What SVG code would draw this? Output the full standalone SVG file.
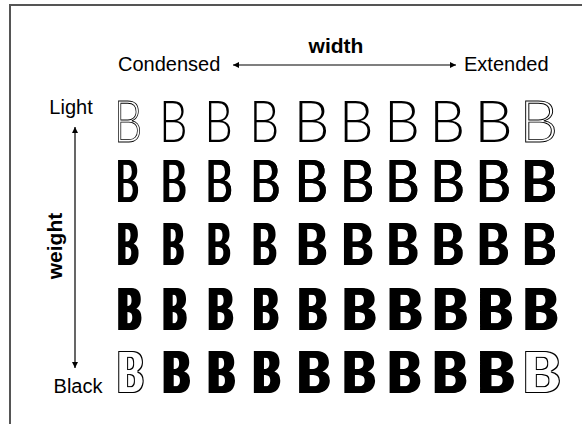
<svg xmlns="http://www.w3.org/2000/svg" width="582" height="424" viewBox="0 0 582 424">
<style>
.lbl{font-family:"Liberation Sans",Arial,sans-serif;font-size:20px;fill:#000}
.bold{font-weight:bold;font-size:21px}
.b{font-family:Lato,"Noto Sans",sans-serif;font-size:58px;fill:#000}
.r1{font-weight:300}
.r2{font-weight:400}
.r3{font-weight:700}
.r5{font-weight:900}
.ol{fill:#fff;stroke:#000;stroke-width:0.9}
.ax{stroke:#000;stroke-width:1.2;fill:none}
</style>
<defs>
<marker id="ah" viewBox="0 0 10 10" refX="10" refY="5" markerWidth="8" markerHeight="6" markerUnits="userSpaceOnUse" orient="auto-start-reverse">
<path d="M0,0 L10,5 L0,10 z" fill="#000"/>
</marker>
<filter id="s1" x="-0.5" y="-0.2" width="2.2" height="1.4"><feOffset in="SourceGraphic" dx="0.5" result="a"/><feOffset in="SourceGraphic" dx="1" result="b"/><feMerge><feMergeNode in="SourceGraphic"/><feMergeNode in="a"/><feMergeNode in="b"/></feMerge></filter>
<filter id="s1.5" x="-0.5" y="-0.2" width="2.2" height="1.4"><feOffset in="SourceGraphic" dx="0.75" result="a"/><feOffset in="SourceGraphic" dx="1.5" result="b"/><feMerge><feMergeNode in="SourceGraphic"/><feMergeNode in="a"/><feMergeNode in="b"/></feMerge></filter>
<filter id="s2" x="-0.5" y="-0.2" width="2.2" height="1.4"><feOffset in="SourceGraphic" dx="1" result="a"/><feOffset in="SourceGraphic" dx="2" result="b"/><feMerge><feMergeNode in="SourceGraphic"/><feMergeNode in="a"/><feMergeNode in="b"/></feMerge></filter>
<filter id="s2.5" x="-0.5" y="-0.2" width="2.2" height="1.4"><feOffset in="SourceGraphic" dx="1.25" result="a"/><feOffset in="SourceGraphic" dx="2.5" result="b"/><feMerge><feMergeNode in="SourceGraphic"/><feMergeNode in="a"/><feMergeNode in="b"/></feMerge></filter>
<filter id="s3" x="-0.5" y="-0.2" width="2.2" height="1.4"><feOffset in="SourceGraphic" dx="1.5" result="a"/><feOffset in="SourceGraphic" dx="3" result="b"/><feMerge><feMergeNode in="SourceGraphic"/><feMergeNode in="a"/><feMergeNode in="b"/></feMerge></filter>
<filter id="s3.5" x="-0.5" y="-0.2" width="2.2" height="1.4"><feOffset in="SourceGraphic" dx="1.75" result="a"/><feOffset in="SourceGraphic" dx="3.5" result="b"/><feMerge><feMergeNode in="SourceGraphic"/><feMergeNode in="a"/><feMergeNode in="b"/></feMerge></filter>
<filter id="s4" x="-0.5" y="-0.2" width="2.2" height="1.4"><feOffset in="SourceGraphic" dx="2" result="a"/><feOffset in="SourceGraphic" dx="4" result="b"/><feMerge><feMergeNode in="SourceGraphic"/><feMergeNode in="a"/><feMergeNode in="b"/></feMerge></filter>
<filter id="o4" x="-0.5" y="-0.2" width="2.2" height="1.4"><feOffset in="SourceAlpha" dx="2" result="a"/><feOffset in="SourceAlpha" dx="4" result="b"/><feMerge result="m"><feMergeNode in="SourceAlpha"/><feMergeNode in="a"/><feMergeNode in="b"/></feMerge><feMorphology in="m" operator="erode" radius="1" result="e"/><feComposite in="m" in2="e" operator="out"/></filter>
<filter id="o2.5" x="-0.5" y="-0.2" width="2.2" height="1.4"><feOffset in="SourceAlpha" dx="1.25" result="a"/><feOffset in="SourceAlpha" dx="2.5" result="b"/><feMerge result="m"><feMergeNode in="SourceAlpha"/><feMergeNode in="a"/><feMergeNode in="b"/></feMerge><feMorphology in="m" operator="erode" radius="1" result="e"/><feComposite in="m" in2="e" operator="out"/></filter>
</defs>
<rect x="10" y="5" width="620" height="460" fill="#fff" stroke="#555" stroke-width="2"/>
<g id="labels">
<text id="width" class="lbl bold" x="336" y="53" text-anchor="middle">width</text>
<text id="condensed" class="lbl" x="118" y="71">Condensed</text>
<text id="extended" class="lbl" x="464" y="71">Extended</text>
<text id="light" class="lbl" x="71" y="114" text-anchor="middle">Light</text>
<text id="black" class="lbl" x="78" y="393" text-anchor="middle">Black</text>
<text id="weight" class="lbl bold" transform="translate(62,246) rotate(-90)" text-anchor="middle">weight</text>
</g>
<g id="connectors">
<line class="ax" x1="233" y1="65" x2="456" y2="65" marker-start="url(#ah)" marker-end="url(#ah)"/>
<line class="ax" x1="75" y1="127" x2="75" y2="368" marker-start="url(#ah)" marker-end="url(#ah)"/>
</g>
<g id="row1" class="b r1">
<text class="ol" x="-5.3" transform="translate(118,141.5) scale(0.78,1)">B</text>
<text x="-5.3" transform="translate(163.2,141.5) scale(0.78,1)">B</text>
<text x="-5.3" transform="translate(208.4,141.5) scale(0.78,1)">B</text>
<text x="-5.3" transform="translate(253.6,141.5) scale(0.82,1)">B</text>
<text x="-5.3" transform="translate(298.8,141.5) scale(0.98,1)">B</text>
<text x="-5.3" transform="translate(344,141.5) scale(0.94,1)">B</text>
<text x="-5.3" transform="translate(389.2,141.5) scale(0.98,1)">B</text>
<text x="-5.3" transform="translate(434.4,141.5) scale(0.98,1)">B</text>
<text x="-5.3" transform="translate(479.6,141.5) scale(1.06,1)">B</text>
<text class="ol" x="-5.3" transform="translate(524.8,141.5) scale(1.06,1)">B</text>
</g>
<g id="row2" class="b r2">
<g transform="translate(118,202)" filter="url(#s1.5)"><text x="-5.2" transform="scale(0.618,1)">B</text></g>
<g transform="translate(163.2,202)" filter="url(#s1.5)"><text x="-5.2" transform="scale(0.689,1)">B</text></g>
<g transform="translate(208.4,202)" filter="url(#s1)"><text x="-5.2" transform="scale(0.742,1)">B</text></g>
<g transform="translate(253.6,202)" filter="url(#s1)"><text x="-5.2" transform="scale(0.813,1)">B</text></g>
<g transform="translate(298.8,202)" filter="url(#s1)"><text x="-5.2" transform="scale(0.883,1)">B</text></g>
<g transform="translate(344,202)" filter="url(#s1)"><text x="-5.2" transform="scale(0.919,1)">B</text></g>
<g transform="translate(389.2,202)" filter="url(#s1)"><text x="-5.2" transform="scale(0.919,1)">B</text></g>
<g transform="translate(434.4,202)" filter="url(#s1)"><text x="-5.2" transform="scale(0.919,1)">B</text></g>
<g transform="translate(479.6,202)" filter="url(#s1)"><text x="-5.2" transform="scale(0.954,1)">B</text></g>
<g transform="translate(524.8,202)" filter="url(#s1)"><text class="r3" x="-4.6" transform="scale(0.939,1)">B</text></g>
</g>
<g id="row3" class="b r3">
<g transform="translate(118,265)" filter="url(#s2.5)"><text x="-4.6" transform="scale(0.561,1)">B</text></g>
<g transform="translate(163.2,265)" filter="url(#s2.5)"><text x="-4.6" transform="scale(0.561,1)">B</text></g>
<g transform="translate(208.4,265)" filter="url(#s2)"><text x="-4.6" transform="scale(0.636,1)">B</text></g>
<g transform="translate(253.6,265)" filter="url(#s2)"><text x="-4.6" transform="scale(0.667,1)">B</text></g>
<g transform="translate(298.8,265)" filter="url(#s2)"><text x="-4.6" transform="scale(0.818,1)">B</text></g>
<g transform="translate(344,265)" filter="url(#s2)"><text x="-4.6" transform="scale(0.848,1)">B</text></g>
<g transform="translate(389.2,265)" filter="url(#s2)"><text x="-4.6" transform="scale(0.848,1)">B</text></g>
<g transform="translate(434.4,265)" filter="url(#s2)"><text x="-4.6" transform="scale(0.848,1)">B</text></g>
<g transform="translate(479.6,265)" filter="url(#s2)"><text x="-4.6" transform="scale(0.848,1)">B</text></g>
<g transform="translate(524.8,265)" filter="url(#s1)"><text x="-4.6" transform="scale(0.939,1)">B</text></g>
</g>
<g id="row4" class="b r5">
<g transform="translate(118,330)" filter="url(#s3.5)"><text x="-4" transform="scale(0.606,1)">B</text></g>
<g transform="translate(163.2,330)" filter="url(#s3.5)"><text x="-4" transform="scale(0.606,1)">B</text></g>
<g transform="translate(208.4,330)" filter="url(#s3)"><text x="-4" transform="scale(0.676,1)">B</text></g>
<g transform="translate(253.6,330)" filter="url(#s3)"><text x="-4" transform="scale(0.676,1)">B</text></g>
<g transform="translate(298.8,330)" filter="url(#s2.5)"><text x="-4" transform="scale(0.775,1)">B</text></g>
<g transform="translate(344,330)" filter="url(#s2.5)"><text x="-4" transform="scale(0.887,1)">B</text></g>
<g transform="translate(389.2,330)" filter="url(#s2.5)"><text x="-4" transform="scale(0.915,1)">B</text></g>
<g transform="translate(434.4,330)" filter="url(#s2.5)"><text x="-4" transform="scale(0.915,1)">B</text></g>
<g transform="translate(479.6,330)" filter="url(#s2.5)"><text x="-4" transform="scale(0.915,1)">B</text></g>
<g transform="translate(524.8,330)" filter="url(#s2.5)"><text x="-4" transform="scale(0.915,1)">B</text></g>
</g>
<g id="row5" class="b r5">
<g transform="translate(118,393)" filter="url(#o4)"><text x="-4" transform="scale(0.676,1)">B</text></g>
<g transform="translate(163.2,393)" filter="url(#s4)"><text x="-4" transform="scale(0.704,1)">B</text></g>
<g transform="translate(208.4,393)" filter="url(#s4)"><text x="-4" transform="scale(0.704,1)">B</text></g>
<g transform="translate(253.6,393)" filter="url(#s4)"><text x="-4" transform="scale(0.704,1)">B</text></g>
<g transform="translate(298.8,393)" filter="url(#s3)"><text x="-4" transform="scale(0.873,1)">B</text></g>
<g transform="translate(344,393)" filter="url(#s3)"><text x="-4" transform="scale(0.873,1)">B</text></g>
<g transform="translate(389.2,393)" filter="url(#s3)"><text x="-4" transform="scale(0.873,1)">B</text></g>
<g transform="translate(434.4,393)" filter="url(#s3)"><text x="-4" transform="scale(0.901,1)">B</text></g>
<g transform="translate(479.6,393)" filter="url(#s2.5)"><text x="-4" transform="scale(0.972,1)">B</text></g>
<g transform="translate(524.8,393)" filter="url(#o2.5)"><text x="-4" transform="scale(1.0,1)">B</text></g>
</g>
</svg>
